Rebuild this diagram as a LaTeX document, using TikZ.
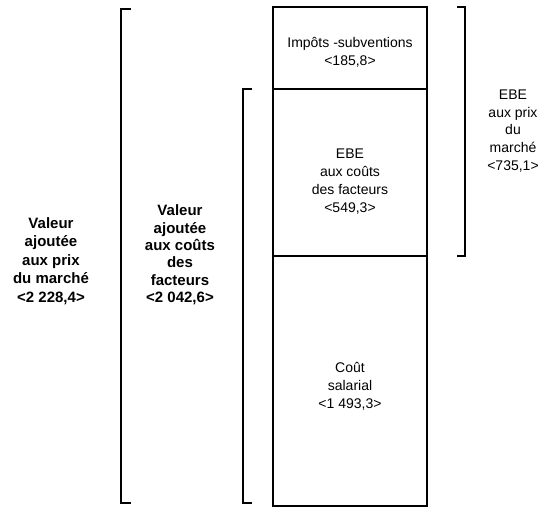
\documentclass[tikz,border=0pt]{standalone}
\usepackage{fontspec}
\setmainfont{Liberation Sans}
\usetikzlibrary{positioning}
\tikzset{
  segbox/.style={
    rectangle, draw=black, line width=1.5pt, fill=white,
    minimum width=154pt, outer sep=0pt, inner sep=0pt
  },
  boxtext/.style={
    align=center, inner sep=0pt, font=\fontsize{14}{18}\selectfont
  },
  sumlabel/.style={
    align=center, inner sep=0pt, font=\fontsize{15}{18.5}\selectfont\bfseries
  },
  rightlabel/.style={
    align=center, inner sep=0pt, font=\fontsize{14}{17.8}\selectfont
  },
  bracket/.style={draw=black, line width=1.5pt}
}
\begin{document}
\begin{tikzpicture}[x=1pt, y=-1pt]
  \useasboundingbox (0,0) rectangle (552,509);

  % colonne
  \node[segbox, minimum height=82pt, anchor=north west] (impots) at (273,7) {};
  \node[segbox, minimum height=167pt, below=0pt of impots] (ebecf) {};
  \node[segbox, minimum height=250pt, below=0pt of ebecf] (salaire) {};
  \node[boxtext] (impotstxt) at ([yshift=-4pt]impots.center)
    {Impôts -subventions\\<185,8>};
  \node[boxtext] (ebecftxt) at ([yshift=-9pt]ebecf.center)
    {EBE\\aux coûts\\des facteurs\\<549,3>};
  \node[boxtext] (salairetxt) at ([yshift=-5pt]salaire.center)
    {Coût\\salarial\\<1 493,3>};

  % accolades
  \coordinate (vamtop) at (131,9);
  \coordinate (vambot) at (131,503);
  \draw[bracket] (vamtop) -- ++(-10,0) |- (vambot);
  \coordinate (vcftop) at (252,89);
  \coordinate (vcfbot) at (252,503);
  \draw[bracket] (vcftop) -- ++(-9,0) |- (vcfbot);
  \coordinate (ebetop) at (457,7);
  \coordinate (ebebot) at (457,256);
  \draw[bracket] (ebetop) -- ++(8,0) |- (ebebot);

  % textes
  \node[sumlabel] (vam) at (51,261)
    {Valeur\\ajoutée\\aux prix\\du marché\\<2 228,4>};
  \node[sumlabel, font=\fontsize{15}{17.4}\selectfont\bfseries] (vcf) at (180,255)
    {Valeur\\ajoutée\\aux coûts\\des\\facteurs\\<2 042,6>};
  \node[rightlabel] (ebepm) at (513,131)
    {EBE\\aux prix\\du\\marché\\<735,1>};
\end{tikzpicture}
\end{document}
